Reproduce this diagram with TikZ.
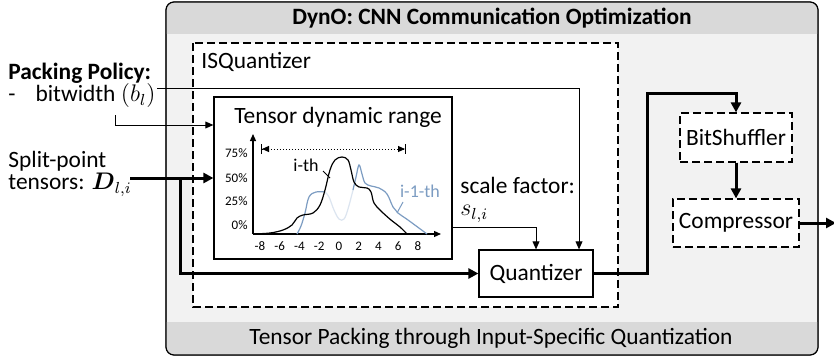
\documentclass[tikz,border=0pt]{standalone}
\usepackage{amsmath,amssymb}
\usepackage{fontspec}
\setmainfont{Carlito}
\usetikzlibrary{arrows.meta}
\definecolor{panelgray}{HTML}{F2F2F2}
\definecolor{bandgray}{HTML}{D9D9D9}
\definecolor{prevblue}{HTML}{7C9CC2}
\definecolor{paleblue}{HTML}{DCE5F0}
\tikzstyle{block} = [rectangle, draw, line width=0.6pt, fill=white, inner sep=0pt]
\tikzstyle{dblock} = [block, dash pattern=on 4pt off 2pt]
\tikzstyle{txt} = [inner sep=1pt, anchor=west]
\tikzstyle{bus} = [line width=1.5pt, -{Triangle[length=5pt,width=5pt]}]
\tikzstyle{ctrl} = [line width=0.5pt, -{Triangle[length=4pt,width=3.4pt]}]
\tikzstyle{tick} = [font=\fontsize{6.5}{7}\selectfont, inner sep=0pt]

\begin{document}
\begin{tikzpicture}[x=0.5pt,y=-0.5pt,font=\fontsize{11.7}{13}\selectfont]
  \useasboundingbox (0,0) rectangle (834,358);

  % outer panel
  \draw[rounded corners=4pt, fill=panelgray] (166,2) rectangle (818,355);
  \begin{scope}
    \clip[rounded corners=4pt] (166,2) rectangle (818,355);
    \fill[bandgray] (166,2) rectangle (818,34);
    \fill[bandgray] (166,322) rectangle (818,355);
  \end{scope}
  \draw[rounded corners=4pt, line width=0.6pt] (166,2) rectangle (818,355);
  \node[font=\fontsize{11.7}{13}\selectfont\bfseries] (head) at (492,18) {DynO: CNN Communication Optimization};
  \node (foot) at (491,338) {Tensor Packing through Input-Specific Quantization};

  % ISQuantizer
  \draw[line width=0.6pt, dash pattern=on 4pt off 2pt, fill=white] (193,43) rectangle (618,307);
  \node[txt] (isq) at (199,62) {ISQuantizer};

  \node[block, minimum width=119pt, minimum height=81pt] (R) at (333,178) {};
  \node (title) at (338,117) {Tensor dynamic range};
  \node[block, minimum width=57pt, minimum height=23.5pt] (Q) at (536,273.5) {Quantizer};
  \node[dblock, minimum width=56pt, minimum height=24.5pt] (BS) at (736,137.5) {BitShuffler};
  \node[dblock, minimum width=63pt, minimum height=24pt] (C) at (736,223) {Compressor};

  \node[txt] (scale) at (458,185) {scale factor:};
  \node[txt] (sli) at (458,214) {$s_{l,i}$};

  % inputs
  \node[txt, font=\fontsize{11.7}{13}\selectfont\bfseries] (pp) at (6,73) {Packing Policy:};
  \node[txt] (bw) at (6,96) {-\hspace{10pt}bitwidth $(b_l)$};
  \node[txt] (sp) at (6,161) {Split-point};
  \node[txt] (tens) at (6,185) {tensors: $\boldsymbol{D}_{l,i}$};

  \coordinate (bwout) at (157,89);
  \coordinate (bwin) at (115,115);
  \coordinate (split) at (130,178);
  \coordinate (br) at (180,178);
  \coordinate (out) at (836,223);

  \draw[ctrl] (bwout) -| ([xshift=21.5pt]Q.north);
  \draw[ctrl] (bwin) |- ([yshift=26.5pt]R.west);
  \draw[bus] (split) -- (R.west);
  \draw[bus] (br) |- (Q.west);
  \draw[ctrl] ([yshift=-24.5pt]R.east) -| (Q.north);
  \draw[bus] (Q.east) -| (647,94) -| (BS.north);
  \draw[bus] (BS.south) -- (C.north);
  \draw[bus] (C.east) -- (out);

  % histogram
  \draw[line width=0.6pt, -{Triangle[length=3.5pt,width=3pt]}] (253,234) -- (253,134);
  \draw[line width=0.6pt, -{Triangle[length=3.5pt,width=3pt]}] (253,234) -- (441,234);
  \foreach \v/\y in {75\%/153, 50\%/178, 25\%/201, 0\%/225}
    \node[tick, anchor=east] at (248,\y) {\v};
  \foreach \x [count=\i from 0] in {-8,-6,-4,-2,0,2,4,6,8}
    \node[tick] at (260+19.75*\i,246) {\x};
  \draw[densely dotted, line width=0.5pt, {Bar[width=5pt]Triangle[length=3.5pt,width=3pt]}-{Triangle[length=3.5pt,width=3pt]Bar[width=5pt]}] (261,149) -- (406,149);

  \draw[prevblue, line width=0.6pt] plot[smooth, tension=0.6] coordinates {(297,234) (301,226) (305,213) (309,197) (316,192) (325,192)};
  \draw[paleblue, line width=0.6pt] plot[smooth, tension=0.6] coordinates {(325,192) (329,197) (334,210) (339,219) (344,219) (348,209) (353,190)};
  \draw[prevblue, line width=0.6pt] plot[smooth, tension=0.6] coordinates {(353,190) (356,177) (359,165) (362,174) (365,183) (371,186) (379,188) (387,194) (393,207) (398,213) (408,220) (427,234)};
  \draw[line width=0.6pt] plot[smooth, tension=0.6] coordinates {(253,234) (270,233) (283,230) (292,225) (297,218) (303,215) (313,213) (320,205) (325,190) (330,170) (335,160) (342,157) (348,160) (351,170) (354,182) (359,187) (367,188) (371,192) (374,203) (381,211) (391,220) (400,227) (407,234)};

  \node[font=\fontsize{9}{10}\selectfont] (ith) at (306,165) {i-th};
  \draw[line width=0.5pt] (323,171) -- (330,178);
  \node[font=\fontsize{9}{10}\selectfont, text=prevblue] (prev) at (420,191) {i-1-th};
  \draw[prevblue, line width=0.5pt] (403,202) -- (397,213);
\end{tikzpicture}
\end{document}
